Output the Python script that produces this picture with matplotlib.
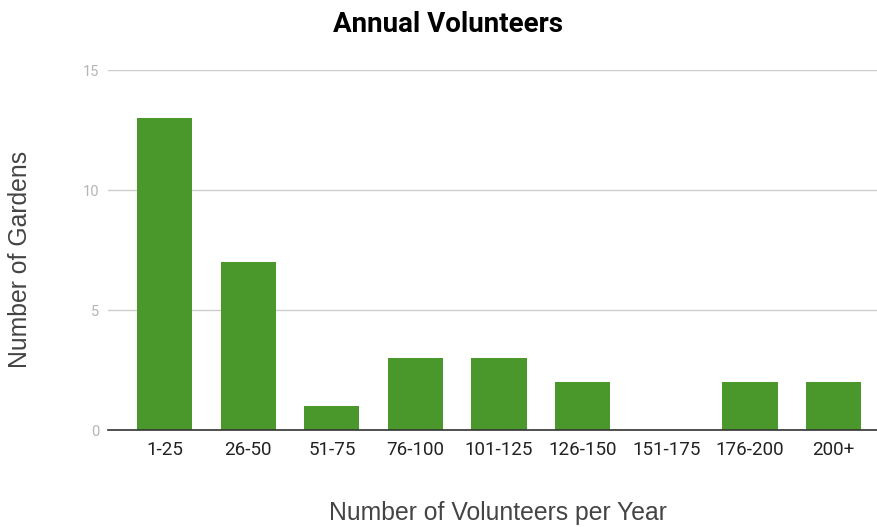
import matplotlib.pyplot as plt

# volunteer ranges and garden counts
ranges = ['1-25', '26-50', '51-75', '76-100', '101-125',
          '126-150', '151-175', '176-200', '200+']
gardens = [13, 7, 1, 3, 3, 2, 0, 2, 2]
yticks = [0, 5, 10, 15]

plt.rcParams['font.family'] = ['Roboto', 'DejaVu Sans']

fig = plt.figure(figsize=(8.78, 5.27), dpi=100)
ax = fig.add_axes([0.123, 0.184, 0.876, 0.683])

ax.bar(range(len(ranges)), gardens, width=0.66, color='#4a982b', zorder=3)

ax.set_xlim(-0.676, 8.52)
ax.set_ylim(0, 15)
ax.set_yticks(yticks)
ax.set_xticks(range(len(ranges)))
ax.set_xticklabels(ranges, fontsize=13.5, color='#222222')
ax.tick_params(axis='y', labelsize=10.5, labelcolor='#b5b5b5', length=0, pad=6.5)
ax.tick_params(axis='x', length=0, pad=8)

# grid and baseline
ax.grid(axis='y', color='#cccccc', linewidth=1, zorder=0)
for s in ['top', 'right', 'left']:
    ax.spines[s].set_visible(False)
ax.spines['bottom'].set_color('#333333')
ax.spines['bottom'].set_linewidth(1.2)
ax.spines['bottom'].set_zorder(4)

fig.text(0.51, 0.953, 'Annual Volunteers', ha='center', va='center',
         fontsize=20, fontweight='bold', color='#000000')
fig.text(0.567, 0.027, 'Number of Volunteers per Year', ha='center', va='center',
         fontsize=17.8, color='#444444', family='Liberation Sans')
fig.text(0.023, 0.508, 'Number of Gardens', ha='center', va='center',
         rotation=90, fontsize=17.8, color='#444444', family='Liberation Sans')

fig.savefig('out.png', dpi=100)
